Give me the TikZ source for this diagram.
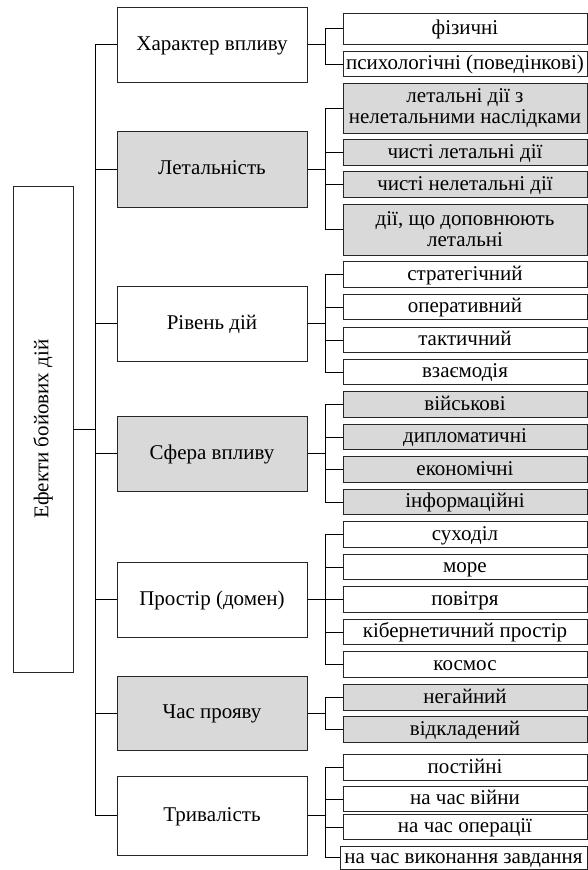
\documentclass[tikz,border=0pt]{standalone}
\usepackage{fontspec}
\setmainfont{Liberation Serif}
\usepackage{graphicx}
\usepackage{tikz}

\begin{document}
\begin{tikzpicture}[x=1pt, y=-1pt, line width=1pt]
        \tikzset{group/.style={rectangle, draw=black!85, fill=white, align=center, inner sep=0pt, minimum width=190pt, minimum height=75pt, text height=15pt, text depth=4pt, font=\fontsize{21}{21}\selectfont},
                 item/.style={rectangle, draw=black!85, fill=white, align=center, inner sep=0pt, minimum width=244pt, minimum height=25.5pt, text height=15pt, text depth=4pt, font=\fontsize{21}{21}\selectfont},
                 twolines/.style={text height={}, text depth={}},
                 shaded/.style={fill=black!15}}
        \useasboundingbox (0,0) rectangle (588,870);
        \node[draw=black!85, minimum width=60pt, minimum height=486pt, inner sep=0pt, font=\fontsize{21}{21}\selectfont] (effects) at (43,429) {\rotatebox{90}{Ефекти бойових дій}};
        \node[group] (character) at (212,44.5) {Характер впливу};
        \node[group, shaded, minimum height=76pt] (lethality) at (212,169) {Летальність};
        \node[group] (level) at (212,323.5) {Рівень дій};
        \node[group, shaded] (sphere) at (212,453.5) {Сфера впливу};
        \node[group] (domain) at (212,599.5) {Простір (домен)};
        \node[group, shaded, minimum height=74pt] (onset) at (212,713) {Час прояву};
        \node[group, minimum height=79pt] (duration) at (212,815.5) {Тривалість};
        \node[item, minimum height=31pt] (physical) at (465,28.5) {фізичні};
        \node[item] (psych) at (465,64) {психологічні (поведінкові)};
        \node[item, shaded, twolines, minimum height=50pt] (mixed) at (465,108) {летальні дії з\\нелетальними наслідками};
        \node[item, shaded] (lethal) at (465,152.5) {чисті летальні дії};
        \node[item, shaded] (nonlethal) at (465,184.5) {чисті нелетальні дії};
        \node[item, shaded, twolines, minimum height=51pt] (supplement) at (465,229.5) {дії, що доповнюють\\летальні};
        \node[item] (strategic) at (465,274.5) {стратегічний};
        \node[item] (operational) at (465,307) {оперативний};
        \node[item] (tactical) at (465,340) {тактичний};
        \node[item] (interaction) at (465,372) {взаємодія};
        \node[item, shaded] (military) at (465,404.5) {військові};
        \node[item, shaded] (diplomatic) at (465,437) {дипломатичні};
        \node[item, shaded] (economic) at (465,469.5) {економічні};
        \node[item, shaded] (information) at (465,502) {інформаційні};
        \node[item] (land) at (465,534.5) {суходіл};
        \node[item] (sea) at (465,567) {море};
        \node[item] (air) at (465,599.5) {повітря};
        \node[item] (cyber) at (465,632) {кібернетичний простір};
        \node[item] (space) at (465,664.5) {космос};
        \node[item, shaded] (immediate) at (465,697.5) {негайний};
        \node[item, shaded] (delayed) at (465,729.5) {відкладений};
        \node[item] (permanent) at (465,767.5) {постійні};
        \node[item] (war) at (465,799) {на час війни};
        \node[item] (operation) at (465,827) {на час операції};
        \node[item, minimum width=247pt, minimum height=23pt] (task) at (463.5,857.5) {на час виконання завдання};
        \draw (effects.east) -- ++(22,0) |- (character);
        \draw (effects.east) -- ++(22,0) |- (lethality);
        \draw (effects.east) -- ++(22,0) |- (level);
        \draw (effects.east) -- ++(22,0) |- (sphere);
        \draw (effects.east) -- ++(22,0) |- (domain);
        \draw (effects.east) -- ++(22,0) |- (onset);
        \draw (effects.east) -- ++(22,0) |- (duration);
        \draw (character.east) -- ++(18,0) |- (physical);
        \draw (character.east) -- ++(18,0) |- (psych);
        \draw (lethality.east) -- ++(18,0) |- (mixed);
        \draw (lethality.east) -- ++(18,0) |- (lethal);
        \draw (lethality.east) -- ++(18,0) |- (nonlethal);
        \draw (lethality.east) -- ++(18,0) |- (supplement);
        \draw (level.east) -- ++(18,0) |- (strategic);
        \draw (level.east) -- ++(18,0) |- (operational);
        \draw (level.east) -- ++(18,0) |- (tactical);
        \draw (level.east) -- ++(18,0) |- (interaction);
        \draw (sphere.east) -- ++(18,0) |- (military);
        \draw (sphere.east) -- ++(18,0) |- (diplomatic);
        \draw (sphere.east) -- ++(18,0) |- (economic);
        \draw (sphere.east) -- ++(18,0) |- (information);
        \draw (domain.east) -- ++(18,0) |- (land);
        \draw (domain.east) -- ++(18,0) |- (sea);
        \draw (domain.east) -- ++(18,0) |- (air);
        \draw (domain.east) -- ++(18,0) |- (cyber);
        \draw (domain.east) -- ++(18,0) |- (space);
        \draw (onset.east) -- ++(18,0) |- (immediate);
        \draw (onset.east) -- ++(18,0) |- (delayed);
        \draw (duration.east) -- ++(18,0) |- (permanent);
        \draw (duration.east) -- ++(18,0) |- (war);
        \draw (duration.east) -- ++(18,0) |- (operation);
        \draw (duration.east) -- ++(18,0) |- (task);
    \end{tikzpicture}
\end{document}
